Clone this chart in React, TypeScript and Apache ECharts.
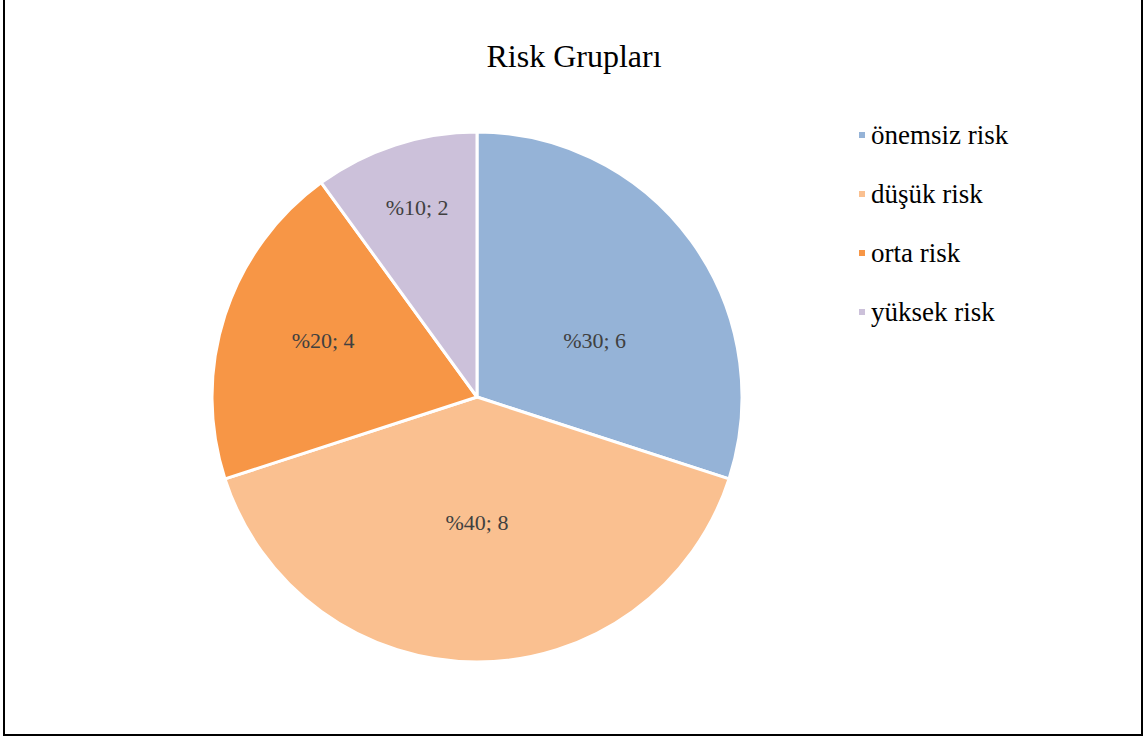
import React, { useEffect, useRef } from "react";
import * as echarts from "echarts";

const categories = ["önemsiz risk", "düşük risk", "orta risk", "yüksek risk"];
const values = [6, 8, 4, 2];
const colors = ["#95B3D7", "#FAC090", "#F79646", "#CCC1DA"];
const labelOffsets = [[8, 23], [0, -10], [-25, -15], [-18, -61]];
const titleText = "Risk Grupları";

export default function App() {
  const ref = useRef<HTMLDivElement>(null);
  useEffect(() => {
    const chart = echarts.init(ref.current!, null, { renderer: "svg" });
    const font = "'Liberation Serif', 'Times New Roman', serif";
    chart.setOption({
      animation: false,
      backgroundColor: "#ffffff",
      title: {
        text: titleText,
        left: 569,
        top: 35,
        textAlign: "center",
        textStyle: { fontFamily: font, fontSize: 32, fontWeight: "normal", color: "#000000" },
      },
      legend: {
        orient: "vertical",
        left: 852,
        top: 116,
        icon: "rect",
        itemWidth: 8,
        itemHeight: 8,
        itemGap: 31,
        data: categories,
        textStyle: { fontFamily: font, fontSize: 27, color: "#000000", lineHeight: 28 },
      },
      graphic: [
        {
          type: "rect",
          shape: { x: 4, y: -10, width: 1138, height: 745 },
          style: { fill: "none", stroke: "#000000", lineWidth: 2 },
          silent: true,
        },
      ],
      series: [
        {
          type: "pie",
          center: [477, 397],
          radius: [0, 265],
          startAngle: 90,
          clockwise: true,
          itemStyle: { borderColor: "#ffffff", borderWidth: 3 },
          label: {
            show: true,
            position: "inside",
            fontFamily: font,
            fontSize: 22,
            color: "#404040",
            formatter: (p: any) => `%${Math.round(p.percent)}; ${p.value}`,
          },
          labelLine: { show: false },
          emphasis: { disabled: true },
          data: categories.map((name, i) => ({
            name,
            value: values[i],
            itemStyle: { color: colors[i] },
            label: { offset: labelOffsets[i] },
          })),
        },
      ],
    });
    return () => chart.dispose();
  }, []);
  return (
    <div
      ref={ref}
      style={{ position: "absolute", left: 0, top: 0, width: 1143, height: 740 }}
    />
  );
}
